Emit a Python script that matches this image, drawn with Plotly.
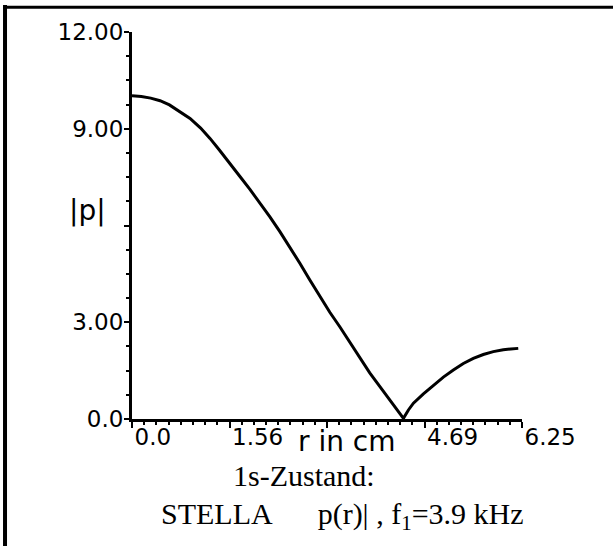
import plotly.graph_objects as go

# |p| (r in cm)
r_cm = [0.0, 0.15, 0.3, 0.45, 0.6, 0.75, 0.93, 1.1, 1.25, 1.4, 1.57, 1.73, 1.89,
        2.05, 2.21, 2.37, 2.53, 2.69, 2.85, 3.01, 3.17, 3.33, 3.48, 3.65, 3.81,
        3.97, 4.13, 4.25, 4.35, 4.43, 4.51, 4.67, 4.83, 4.99, 5.15, 5.31, 5.47,
        5.63, 5.79, 5.95, 6.07, 6.19]
p_abs = [10.02, 10.0, 9.95, 9.87, 9.74, 9.56, 9.32, 9.02, 8.70, 8.34, 7.93, 7.52,
         7.12, 6.70, 6.27, 5.81, 5.34, 4.83, 4.31, 3.80, 3.31, 2.86, 2.42, 1.91,
         1.43, 1.01, 0.59, 0.28, 0.02, 0.28, 0.49, 0.78, 1.05, 1.30, 1.52, 1.72,
         1.88, 2.00, 2.09, 2.15, 2.17, 2.19]

x_ticks = [0.0, 1.5625, 3.125, 4.6875, 6.25]
x_tick_labels = ["0.0", "1.56", "", "4.69", "6.25"]
y_ticks = [0, 3, 6, 9, 12]
y_tick_labels = ["0.0", "3.00", "", "9.00", "12.00"]

sans = "DejaVu Sans"
serif = "Liberation Serif"
gap = "\u00a0" * 6

fig = go.Figure()
fig.add_trace(
    go.Scatter(
        x=r_cm,
        y=p_abs,
        mode="lines",
        line=dict(color="black", width=3),
        showlegend=False,
        hoverinfo="skip",
    )
)

fig.update_layout(
    width=613,
    height=546,
    margin=dict(l=132, r=91, t=32, b=127),
    paper_bgcolor="white",
    plot_bgcolor="white",
    font=dict(family=sans, size=23, color="black"),
    xaxis=dict(
        range=[0, 6.25],
        showgrid=False,
        zeroline=False,
        showline=True,
        linecolor="black",
        linewidth=3,
        ticks="outside",
        ticklen=6,
        tickwidth=2,
        tickcolor="black",
        tickvals=x_ticks,
        ticktext=x_tick_labels,
        ticklabelposition="outside right",
        ticklabelstandoff=-5,
        minor=dict(ticks="outside", ticklen=3, tickwidth=2, tickcolor="black",
                   dtick=6.25 / 32),
    ),
    yaxis=dict(
        range=[0, 12],
        showgrid=False,
        zeroline=False,
        showline=True,
        linecolor="black",
        linewidth=3,
        ticks="outside",
        ticklen=5,
        tickwidth=2,
        tickcolor="black",
        tickvals=y_ticks,
        ticktext=y_tick_labels,
        ticklabelstandoff=-4,
        minor=dict(ticks="outside", ticklen=3, tickwidth=2, tickcolor="black",
                   dtick=0.75),
    ),
)

# axis labels
fig.add_annotation(x=3.45, y=-0.057, xref="x", yref="paper", text="r in cm",
                   showarrow=False, font=dict(family=sans, size=28),
                   xanchor="center", yanchor="middle")
fig.add_annotation(x=-0.113, y=6.45, xref="paper", yref="y", text="|p|",
                   showarrow=False, font=dict(family=sans, size=28),
                   xanchor="center", yanchor="middle")

# caption
fig.add_annotation(x=0.44, y=-0.147, xref="paper", yref="paper",
                   text="1s-Zustand:", showarrow=False,
                   font=dict(family=serif, size=30),
                   xanchor="center", yanchor="middle")
fig.add_annotation(x=0.07, y=-0.251, xref="paper", yref="paper",
                   text="STELLA" + gap + "p(r)| , f<sub>1</sub>=3.9 kHz",
                   showarrow=False, font=dict(family=serif, size=30),
                   xanchor="left", yanchor="middle")

# frame lines (top and left edges of the original page)
fig.add_shape(type="line", xref="paper", yref="paper",
              x0=-0.33, x1=1.24, y0=1.064, y1=1.064,
              line=dict(color="black", width=3))
fig.add_shape(type="line", xref="paper", yref="paper",
              x0=-0.3256, x1=-0.3256, y0=1.07, y1=-0.33,
              line=dict(color="black", width=4))

fig.write_html("out.html", config={"displayModeBar": False},
               post_script="document.body.style.margin='0';")
